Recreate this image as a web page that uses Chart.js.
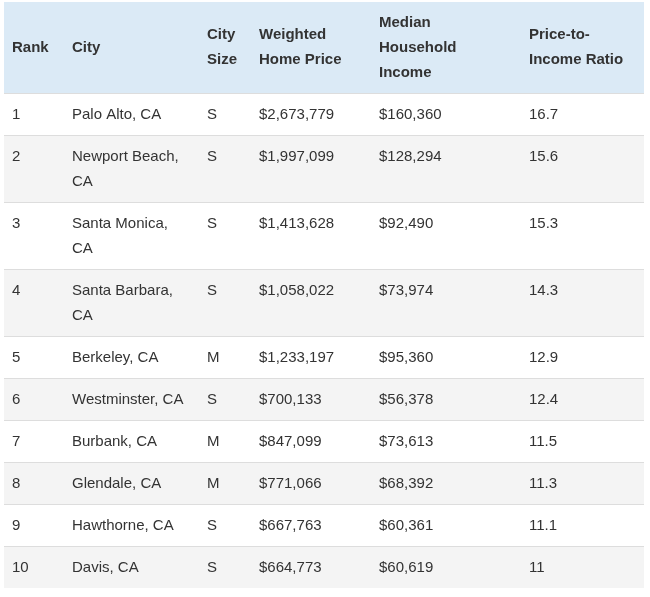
<!DOCTYPE html>
<html><head><meta charset="utf-8">
<script src="https://cdn.jsdelivr.net/npm/chart.js@4"></script>
<style>html,body{margin:0;padding:0;background:#fff}#wrap{width:650px;height:597px}</style>
</head><body><div id="wrap"><canvas id="c"></canvas></div>
<script>
const headers = [["Rank"],["City"],["City","Size"],["Weighted","Home Price"],["Median","Household","Income"],["Price-to-","Income Ratio"]];
const ranks = [1,2,3,4,5,6,7,8,9,10];
const cities = ["Palo Alto, CA","Newport Beach, CA","Santa Monica, CA","Santa Barbara, CA","Berkeley, CA","Westminster, CA","Burbank, CA","Glendale, CA","Hawthorne, CA","Davis, CA"];
const sizes = ["S","S","S","S","M","S","M","M","S","S"];
const prices = ["$2,673,779","$1,997,099","$1,413,628","$1,058,022","$1,233,197","$700,133","$847,099","$771,066","$667,763","$664,773"];
const incomes = ["$160,360","$128,294","$92,490","$73,974","$95,360","$56,378","$73,613","$68,392","$60,361","$60,619"];
const ratios = ["16.7","15.6","15.3","14.3","12.9","12.4","11.5","11.3","11.1","11"];

const colX = [8,68,203,255,375,525];
const wrapW = [50,117,45,115,145,115];
const tablePlugin = {
  id:'table',
  afterDraw(chart){
    const ctx = chart.ctx, L = 4, R = 644, lh = 25;
    ctx.save();
    ctx.textBaseline = 'middle';
    ctx.font = 'bold 15px "Liberation Sans", Arial, sans-serif';
    let y = 2;
    const headH = 91;
    ctx.fillStyle = '#dbeaf6'; ctx.fillRect(L, y, R-L, headH);
    headers.forEach((lines,c)=>{
      const top = y + (headH - lines.length*lh)/2;
      ctx.fillStyle = '#333';
      lines.forEach((t,i)=>ctx.fillText(t, L+colX[c], top + lh*(i+0.5)));
    });
    y += headH;
    ctx.font = '15px "Liberation Sans", Arial, sans-serif';
    const wrap = (t,w)=>{
      const words = t.split(' '); const out=[]; let cur='';
      words.forEach(wd=>{const s=cur?cur+' '+wd:wd; if(ctx.measureText(s).width>w && cur){out.push(cur);cur=wd;} else cur=s;});
      out.push(cur); return out;
    };
    ranks.forEach((r,i)=>{
      const cells = [String(r),cities[i],sizes[i],prices[i],incomes[i],ratios[i]].map((t,c)=>wrap(t,wrapW[c]));
      const n = Math.max(...cells.map(a=>a.length));
      const h = 17 + n*lh;
      ctx.fillStyle = i%2 ? '#f4f4f4' : '#ffffff';
      ctx.fillRect(L, y, R-L, h);
      ctx.strokeStyle = '#dddddd'; ctx.lineWidth = 1;
      ctx.beginPath(); ctx.moveTo(L, y+0.5); ctx.lineTo(R, y+0.5); ctx.stroke();
      ctx.fillStyle = '#333';
      cells.forEach((lines,c)=>lines.forEach((t,k)=>ctx.fillText(t, L+colX[c], y + 22 + lh*k)));
      y += h;
    });
    ctx.restore();
  }
};
new Chart(document.getElementById('c'), {
  type:'bar',
  data:{labels:ranks.map(String), datasets:[{data:[], label:'Price-to-Income Ratio'}]},
  options:{responsive:true, maintainAspectRatio:false, animation:false,
    plugins:{legend:{display:false}, tooltip:{enabled:false}},
    scales:{x:{display:false}, y:{display:false}}},
  plugins:[tablePlugin]
});
</script></body></html>
